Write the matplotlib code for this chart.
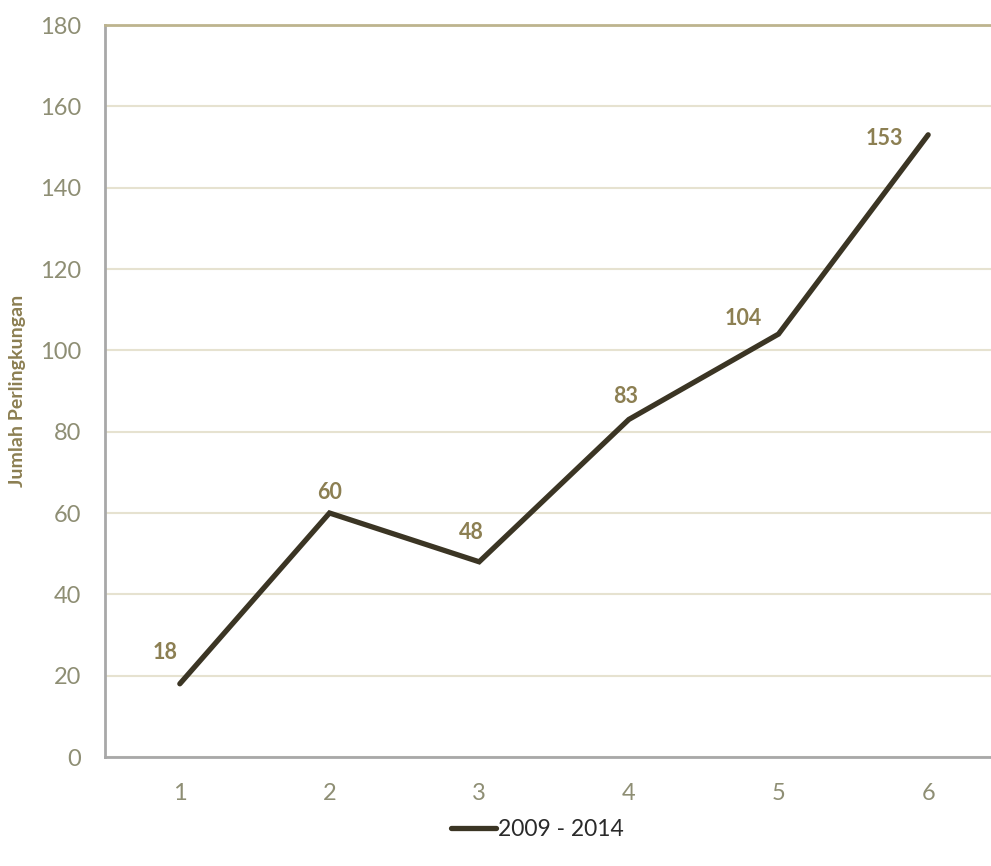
import matplotlib
matplotlib.use("Agg")
import matplotlib.pyplot as plt

plt.rcParams['font.family'] = ['Lato', 'DejaVu Sans']

categories = [1, 2, 3, 4, 5, 6]
values = [18, 60, 48, 83, 104, 153]
series_name = "2009 - 2014"
y_label = "Jumlah Perlingkungan"
yticks = [0, 20, 40, 60, 80, 100, 120, 140, 160, 180]

# label offsets in pixels (dx, dy) from each point
label_offsets = [(-15, 31), (0, 21), (-8, 29), (-3, 23), (-35, 16), (-44, -4)]

W, H = 991, 866
fig = plt.figure(figsize=(W/100, H/100), dpi=100)
left, right = 105/W, 1003/W
bottom, top = 1 - 757/H, 1 - 25/H
ax = fig.add_axes([left, bottom, right-left, top-bottom])

line, = ax.plot(categories, values, color='#3b3524', lw=3.8, solid_capstyle='round',
                solid_joinstyle='miter', label=series_name)

label_color = '#8c7f52'
for x, v, (dx, dy) in zip(categories, values, label_offsets):
    ax.annotate(str(v), (x, v), xytext=(dx, dy), textcoords='offset pixels',
                ha='center', va='center', fontsize=15.5, fontweight='bold', color=label_color)

ax.set_xlim(0.5, 6.5)
ax.set_ylim(0, 180)
ax.set_yticks(yticks)
ax.set_xticks(categories)
ax.grid(axis='y', color='#e6e2d0', lw=1.5)
ax.set_axisbelow(True)
ax.tick_params(axis='both', length=0, labelsize=17, colors='#8e8e74')
ax.tick_params(axis='x', pad=19)
ax.tick_params(axis='y', pad=17)
ax.spines['right'].set_visible(False)
ax.spines['top'].set_color('#bdb48e')
ax.spines['top'].set_linewidth(2)
ax.spines['left'].set_color('#a8a8a8')
ax.spines['left'].set_linewidth(2)
ax.spines['bottom'].set_color('#a8a8a8')
ax.spines['bottom'].set_linewidth(2)

fig.text(18/W, 1 - 391/H, y_label, rotation=90, ha='center', va='center',
         fontsize=14, fontweight='bold', color='#8c7f52')

fig.legend(handles=[line], labels=[series_name], loc='center', bbox_to_anchor=(537/W, 1 - 830/H),
           frameon=False, fontsize=16.5, handlelength=2.0, handletextpad=0.05,
           labelcolor='#2a2a2a')

fig.savefig('out.png', dpi=100)
